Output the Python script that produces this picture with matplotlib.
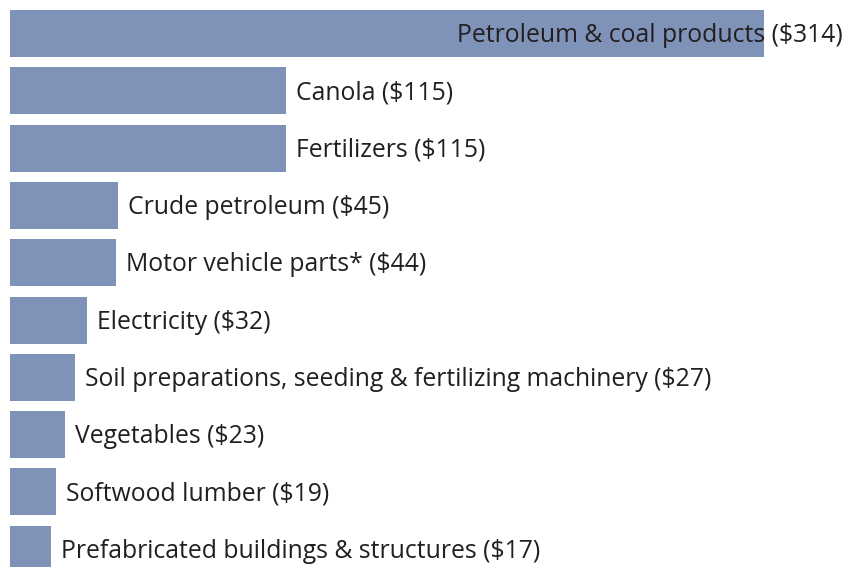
"""Horizontal bar chart of product values with inline labels."""

import matplotlib

matplotlib.use("Agg")
import matplotlib.pyplot as plt

categories = [
    "Petroleum & coal products",
    "Canola",
    "Fertilizers",
    "Crude petroleum",
    "Motor vehicle parts*",
    "Electricity",
    "Soil preparations, seeding & fertilizing machinery",
    "Vegetables",
    "Softwood lumber",
    "Prefabricated buildings & structures",
]
values = [314, 115, 115, 45, 44, 32, 27, 23, 19, 17]

BAR_COLOR = "#7f92b8"
TEXT_COLOR = "#231f20"

plt.rcParams["font.family"] = ["Open Sans", "DejaVu Sans"]

fig = plt.figure(figsize=(8.47, 5.67), dpi=100)
ax = fig.add_axes([0, 0, 1, 1])

px_per_unit = 2.401
pitch = 57.3
ax.set_xlim(-10 / px_per_unit, (847 - 10) / px_per_unit)
ax.set_ylim((567 - 33.5) / pitch, -33.5 / pitch)

ypos = list(range(len(categories)))
ax.barh(ypos, values, height=47 / pitch, color=BAR_COLOR, linewidth=0)

xmax = ax.get_xlim()[1]
for y, name, val in zip(ypos, categories, values):
    label = f"{name} (${val})"
    if y == 0:
        ax.text(xmax - 4 / px_per_unit, y + 0.04, label, ha="right", va="center",
                fontsize=17.8, color=TEXT_COLOR)
    else:
        ax.text(val + 10 / px_per_unit, y + 0.04, label, ha="left", va="center",
                fontsize=17.8, color=TEXT_COLOR)

ax.axis("off")
fig.savefig("out.png", dpi=100)
